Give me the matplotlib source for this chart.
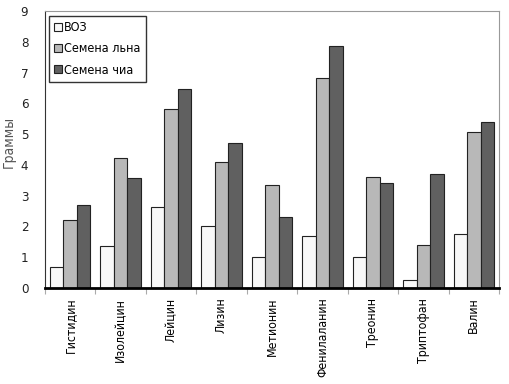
import numpy as np
import matplotlib
matplotlib.use("Agg")
import matplotlib.pyplot as plt

AMINO_ACIDS = [
    "Гистидин", "Изолейцин", "Лейцин", "Лизин", "Метионин",
    "Фенилаланин", "Треонин", "Триптофан", "Валин",
]
WHO = [0.68, 1.36, 2.64, 2.03, 1.01, 1.70, 1.01, 0.27, 1.77]
FLAX = [2.22, 4.23, 5.80, 4.08, 3.34, 6.83, 3.61, 1.40, 5.08]
CHIA = [2.69, 3.56, 6.45, 4.70, 2.31, 7.86, 3.41, 3.70, 5.38]
SERIES_NAMES = ["ВОЗ", "Семена льна", "Семена чиа"]

plt.rcParams["font.family"] = ["DejaVu Sans"]
plt.rcParams["font.stretch"] = "condensed"

fig = plt.figure(figsize=(5.09, 3.84), dpi=100)
ax = fig.add_axes([45 / 509, 1 - 288 / 384, 454 / 509, 277 / 384])

x = np.arange(len(AMINO_ACIDS))
w = 0.267
colors = ["#f8f8f8", "#b8b8b8", "#606060"]
for i, (vals, name, c) in enumerate(zip([WHO, FLAX, CHIA], SERIES_NAMES, colors)):
    ax.bar(x + (i - 1) * w, vals, w, color=c, edgecolor="#222222",
           linewidth=0.8, label=name, zorder=2)

ax.set_xlim(-0.5, len(AMINO_ACIDS) - 0.5)
ax.set_ylim(0, 9)
ax.set_yticks(range(10))
ax.tick_params(axis="y", labelsize=9.5, length=0, pad=12, labelcolor="#222222")
ax.set_xticks(x)
ax.set_xticklabels(AMINO_ACIDS, rotation=90, fontsize=8.8, va="top")
ax.tick_params(axis="x", length=0, pad=7)
ax.set_xticks(np.arange(len(AMINO_ACIDS) + 1) - 0.5, minor=True)
ax.tick_params(axis="x", which="minor", length=4, color="#aaaaaa", width=0.8)
ax.set_ylabel("Граммы", fontsize=10, color="#555555")
ax.yaxis.set_label_coords(-0.064, 0.527)

for side in ["top", "right"]:
    ax.spines[side].set_color("#999999")
    ax.spines[side].set_linewidth(0.8)
ax.spines["left"].set_color("#333333")
ax.spines["left"].set_linewidth(0.8)
ax.spines["bottom"].set_color("black")
ax.spines["bottom"].set_linewidth(2)

leg = ax.legend(loc="upper left", bbox_to_anchor=(0.008, 0.983), fontsize=9,
                frameon=True, fancybox=False, borderpad=0.45, handlelength=0.6,
                handleheight=0.6, handletextpad=0.2, labelspacing=0.65,
                borderaxespad=0)
leg.get_frame().set_edgecolor("black")
leg.get_frame().set_linewidth(1.0)

fig.savefig("out.png", dpi=100)
